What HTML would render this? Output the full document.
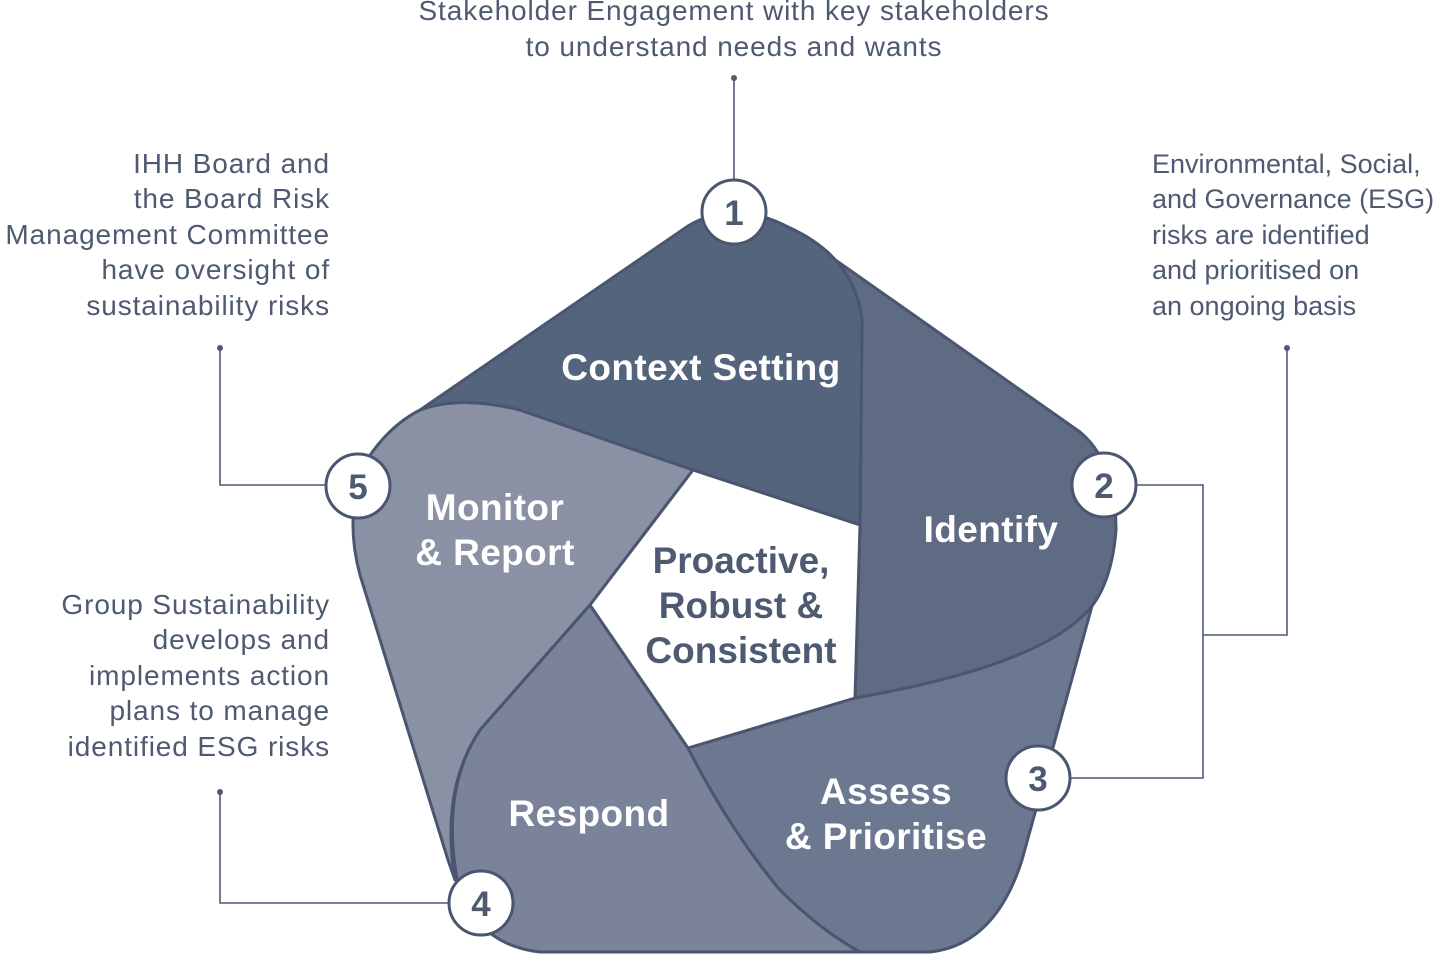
<!DOCTYPE html>
<html><head><meta charset="utf-8"><style>
html,body{margin:0;padding:0;background:#fff;width:1440px;height:954px;overflow:hidden}
svg{display:block}
.a{font-family:"Liberation Sans",sans-serif;font-size:28px;letter-spacing:0.9px;fill:#4e5a72}
.r{letter-spacing:0px;font-size:27px}
.h{font-family:"Liberation Sans",sans-serif;font-weight:bold;font-size:37px;letter-spacing:0.4px;fill:#fff;text-anchor:middle}
.c{font-family:"Liberation Sans",sans-serif;font-weight:bold;font-size:37px;fill:#4e5a72;text-anchor:middle}
.n{font-family:"Liberation Sans",sans-serif;font-weight:bold;font-size:35px;fill:#4e5a72;text-anchor:middle}
</style></head><body>
<svg width="1440" height="954" viewBox="0 0 1440 954">
<g stroke="#4e5a72" stroke-width="1.6" fill="none">
<line x1="734" y1="78" x2="734" y2="182"/>
<polyline points="220,348 220,485 328,485"/>
<polyline points="220,792 220,903 451,903"/>
<polyline points="1287,348 1287,635 1203,635"/>
<polyline points="1136,485 1203,485 1203,778 1070,778"/>
</g>
<g fill="#4e5a72"><circle cx="734" cy="78" r="3"/><circle cx="220" cy="348" r="3"/><circle cx="220" cy="792" r="3"/><circle cx="1287" cy="348" r="3"/></g>

<g stroke="#4a5670" stroke-width="3" stroke-linejoin="round">
<path fill="#8a91a5" d="M420,410 Q460,395 520,410 L693,470 L590,605 L480,730 Q440,790 455,880 L448,860 L360,575 Q345,520 362,468 Q385,428 420,410 Z"/>
<path fill="#7a8399" d="M590,605 L688,748 Q730,830 780,890 Q820,930 860,952 L540,952 Q478,945 458,885 Q440,790 480,730 Z"/>
<path fill="#6c7790" d="M688,748 L855,698 Q1040,660 1092,606 L1022,860 Q995,945 930,952 L860,952 Q820,930 780,890 Q730,830 688,748 Z"/>
<path fill="#5f6b83" d="M790,228 L1080,432 Q1116,462 1116,530 Q1112,580 1092,606 Q1045,665 855,698 L860,525 L862,320 Q855,258 790,228 Z"/>
<path fill="#55647d" d="M420,410 L688,226 Q734,198 790,228 Q855,258 862,320 L860,525 L693,470 L520,410 Q460,395 420,410 Z"/>
<path fill="#fff" d="M693,470 L860,525 L855,698 L688,748 L590,605 Z"/>
</g>

<text class="h" x="701" y="380">Context Setting</text>
<text class="h" x="991" y="542">Identify</text>
<text class="h" x="495" y="520">Monitor</text>
<text class="h" x="495" y="565">&amp; Report</text>
<text class="h" x="589" y="826">Respond</text>
<text class="h" x="886" y="804">Assess</text>
<text class="h" x="886" y="849">&amp; Prioritise</text>
<text class="c" x="741" y="573">Proactive,</text>
<text class="c" x="741" y="618">Robust &amp;</text>
<text class="c" x="741" y="663">Consistent</text>

<g fill="#fff" stroke="#4a5670" stroke-width="3">
<circle cx="734" cy="212" r="32"/><circle cx="1104" cy="485" r="32"/><circle cx="1038" cy="778" r="32"/><circle cx="481" cy="903" r="32"/><circle cx="358" cy="486" r="32"/>
</g>
<text class="n" x="734" y="225">1</text>
<text class="n" x="1104" y="498">2</text>
<text class="n" x="1038" y="791">3</text>
<text class="n" x="481" y="916">4</text>
<text class="n" x="358" y="499">5</text>

<g class="a" text-anchor="middle">
<text x="734" y="20">Stakeholder Engagement with key stakeholders</text>
<text x="734" y="56">to understand needs and wants</text>
</g>
<g class="a" text-anchor="end">
<text x="330" y="173">IHH Board and</text>
<text x="330" y="208">the Board Risk</text>
<text x="330" y="244">Management Committee</text>
<text x="330" y="279">have oversight of</text>
<text x="330" y="315">sustainability risks</text>
<text x="330" y="614">Group Sustainability</text>
<text x="330" y="649">develops and</text>
<text x="330" y="685">implements action</text>
<text x="330" y="720">plans to manage</text>
<text x="330" y="756">identified ESG risks</text>
</g>
<g class="a r">
<text x="1152" y="173">Environmental, Social,</text>
<text x="1152" y="208">and Governance (ESG)</text>
<text x="1152" y="244">risks are identified</text>
<text x="1152" y="279">and prioritised on</text>
<text x="1152" y="315">an ongoing basis</text>
</g>
</svg>
</body></html>
